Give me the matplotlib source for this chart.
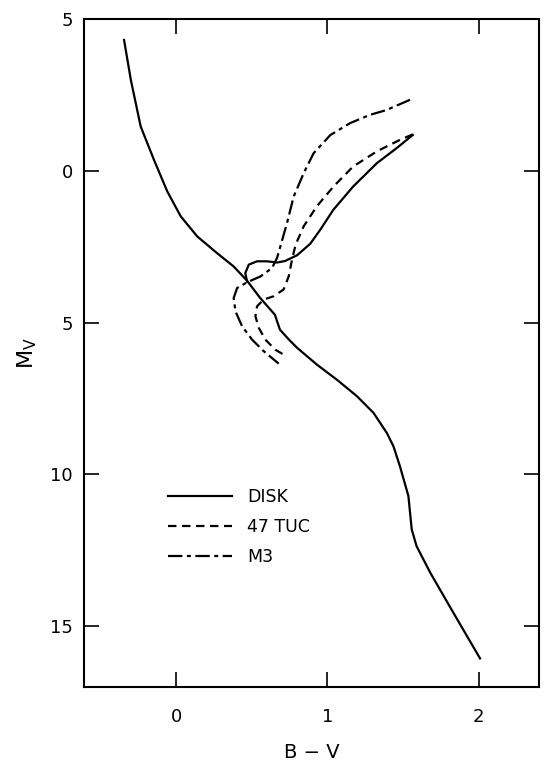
import matplotlib
matplotlib.use("Agg")
import matplotlib.pyplot as plt

# ---- data (B-V, M_V) ----
disk_ms_bv = [-0.345, -0.30, -0.235, -0.147, -0.059, 0.03, 0.139, 0.27, 0.38, 0.469,
              0.554, 0.653, 0.686, 0.746, 0.80, 0.93, 1.063, 1.195, 1.305, 1.393,
              1.437, 1.48, 1.536, 1.558, 1.59, 1.68, 1.833, 2.01]
disk_ms_mv = [-4.31, -2.99, -1.46, -0.36, 0.68, 1.5, 2.16, 2.71, 3.15, 3.62,
              4.18, 4.74, 5.23, 5.56, 5.83, 6.38, 6.88, 7.42, 7.97, 8.63,
              9.07, 9.73, 10.71, 11.81, 12.36, 13.23, 14.55, 16.06]

disk_gb_bv = [1.565, 1.459, 1.327, 1.17, 1.04, 0.953, 0.887, 0.80, 0.72, 0.667,
              0.60, 0.535, 0.48, 0.457, 0.469]
disk_gb_mv = [-1.18, -0.75, -0.25, 0.52, 1.28, 1.94, 2.40, 2.78, 2.97, 3.02,
              2.98, 2.98, 3.09, 3.37, 3.65]

tuc47_bv = [1.565, 1.48, 1.327, 1.17, 1.04, 0.93, 0.843, 0.79, 0.766, 0.744,
            0.71, 0.645, 0.579, 0.535, 0.524, 0.546, 0.59, 0.655, 0.71]
tuc47_mv = [-1.20, -1.02, -0.64, -0.14, 0.52, 1.17, 1.83, 2.43, 2.93, 3.48,
            3.91, 4.13, 4.24, 4.46, 4.79, 5.17, 5.56, 5.89, 6.05]

m3_bv = [1.547, 1.39, 1.28, 1.15, 1.02, 0.909, 0.843, 0.777, 0.733, 0.689,
         0.667, 0.634, 0.557, 0.469, 0.403, 0.38, 0.392, 0.436, 0.502, 0.579, 0.678]
m3_mv = [-2.34, -2.0, -1.84, -1.57, -1.18, -0.58, 0.08, 0.85, 1.72, 2.49,
         2.87, 3.2, 3.48, 3.67, 3.86, 4.19, 4.63, 5.12, 5.56, 5.94, 6.35]

x_ticks = [0, 1, 2]
x_ticklabels = ["0", "1", "2"]
y_ticks = [-5, 0, 5, 10, 15]
y_ticklabels = ["5", "0", "5", "10", "15"]

labels = ["DISK", "47 TUC", "M3"]

# ---- plot ----
plt.rcParams['font.family'] = ['DejaVu Sans']
fig = plt.figure(figsize=(5.6, 7.66), dpi=100)
ax = fig.add_axes([84/560, 1-687/766, (539-84)/560, (687-19)/766])

lw = 1.6
ax.plot(disk_ms_bv, disk_ms_mv, color='black', lw=lw, label=labels[0])
ax.plot(disk_gb_bv, disk_gb_mv, color='black', lw=lw)
ax.plot(tuc47_bv, tuc47_mv, color='black', lw=lw, dashes=(3.8, 2.5), label=labels[1])
ax.plot(m3_bv, m3_mv, color='black', lw=lw, dashes=(6.5, 2.0, 1.8, 2.0), label=labels[2])

ax.set_xlim(-0.61, 2.40)
ax.set_ylim(17.0, -5.0)
ax.set_xticks(x_ticks)
ax.set_xticklabels(x_ticklabels)
ax.set_yticks(y_ticks)
ax.set_yticklabels(y_ticklabels)
ax.tick_params(direction='in', length=11, width=1.2, top=True, right=True,
               labelsize=13, colors='black')
ax.tick_params(axis='x', pad=15)
ax.tick_params(axis='y', pad=8)
for s in ax.spines.values():
    s.set_linewidth(1.5)

ax.set_xlabel("B \u2212 V", fontsize=14, labelpad=12)
ax.set_ylabel(r"$\mathregular{M_V}$", fontsize=16, labelpad=8)

leg = ax.legend(loc='upper left', bbox_to_anchor=(0.185, 0.298), frameon=False,
                fontsize=12.5, handlelength=3.7, handletextpad=0.85, labelspacing=0.7,
                borderpad=0, borderaxespad=0)

fig.savefig("out.png", dpi=100)
